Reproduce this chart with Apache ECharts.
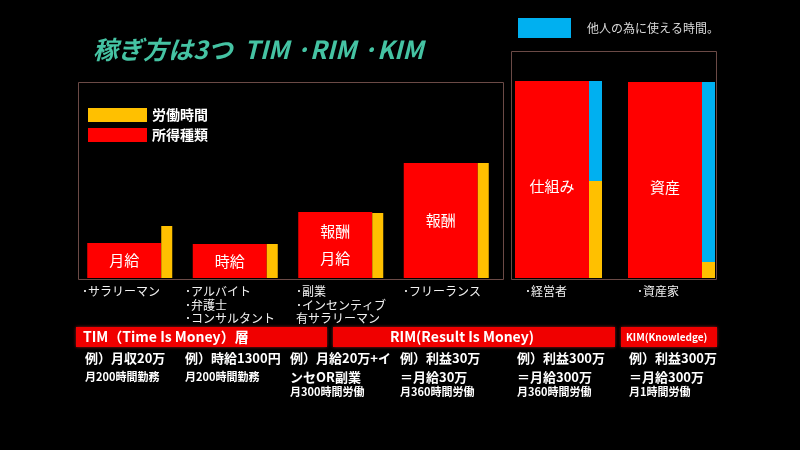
<!DOCTYPE html>
<html><head><meta charset="utf-8">
<script src="https://cdn.jsdelivr.net/npm/echarts@6/dist/echarts.min.js"></script>
<style>html,body{margin:0;padding:0;background:#000;}#c{width:800px;height:450px;}</style>
</head><body><div id="c"></div>
<script>
// ---- data ----
const leftCategories = ['･サラリーマン', '･アルバイト\n･弁護士\n･コンサルタント', '･副業\n･インセンティブ\n有サラリーマン', '･フリーランス'];
const rightCategories = ['･経営者', '･資産家'];
const leftIncome = [35, 34, 66, 115];        // 所得種類 (red)
const leftLabor = [52, 34, 65, 115];         // 労働時間 (orange)
const leftBarLabels = ['月給', '時給', '報酬\n月給', '報酬'];
const rightIncome = [197, 196];
const rightLabor = [97, 16];
const rightFree = [100, 180];                // 他人の為に使える時間
const rightBarLabels = ['仕組み', '資産'];
const bandLabels = ['TIM（Time Is Money）層', 'RIM(Result Is Money)', 'KIM(Knowledge)'];
const examples = [
  ['例）月収20万', '月200時間勤務'],
  ['例）時給1300円', '月200時間勤務'],
  ['例）月給20万+イ', 'ンセOR副業', '月300時間労働'],
  ['例）利益30万', '＝月給30万', '月360時間労働'],
  ['例）利益300万', '＝月給300万', '月360時間労働'],
  ['例）利益300万', '＝月給300万', '月1時間労働']
];
const titleText = '稼ぎ方は3つ  TIM ·RIM ·KIM';

const RED = '#ff0000', ORANGE = '#ffc000', BLUE = '#00b0f0';
const FONT = '"Noto Sans CJK JP", "Noto Sans", sans-serif';

// ---- decorative / text graphics ----
const graphics = [];
// frames
graphics.push({type:'rect', shape:{x:78.5, y:82.5, width:425, height:197}, style:{fill:'none', stroke:'#6b4a46', lineWidth:1}, z:-1});
graphics.push({type:'rect', shape:{x:511.5, y:51.5, width:205, height:228}, style:{fill:'none', stroke:'#6b4a46', lineWidth:1}, z:-1});
// category labels
const catX = [82, 185, 296, 403, 525, 637];
leftCategories.concat(rightCategories).forEach((t, i) => {
  graphics.push({type:'text', style:{text:t, x:catX[i], y:285, fill:'#f2f2f2', font:'12px ' + FONT, lineHeight:13.5, verticalAlign:'top'}});
});
// bands
const bands = [[76, 251], [333, 282], [621, 96]];
bands.forEach((b, i) => {
  graphics.push({type:'rect', shape:{x:b[0], y:327, width:b[1], height:20}, style:{fill:'#f00000', shadowBlur:3, shadowColor:'rgba(255,40,40,0.6)'}});
});
graphics.push({type:'text', style:{text:bandLabels[0], x:83, y:337, fill:'#fff', font:'bold 14px ' + FONT, verticalAlign:'middle'}});
graphics.push({type:'text', style:{text:bandLabels[1], x:462, y:337, fill:'#fff', font:'bold 14px ' + FONT, verticalAlign:'middle', align:'center'}});
graphics.push({type:'text', style:{text:bandLabels[2], x:626, y:337, fill:'#fff', font:'bold 10px ' + FONT, verticalAlign:'middle'}});
// examples
const exX = [85, 185, 290, 400, 517, 629];
examples.forEach((lines, i) => {
  lines.forEach((t, j) => {
    const small = (lines.length === 2 && j === 1) || j === 2;
    const y = j === 0 ? 358 : (j === 1 ? 377 : 392);
    graphics.push({type:'text', style:{text:t, x:exX[i], y:y, fill:'#fff', font:(small ? 'bold 11px ' : 'bold 13px ') + FONT, verticalAlign:'middle'}});
  });
});

const chart = echarts.init(document.getElementById('c'));
const lbl = {show:true, position:'inside', color:'#fff', fontSize:15, fontFamily:FONT, lineHeight:27};
chart.setOption({
  backgroundColor:'#000',
  animation:false,
  title:{text:titleText, left:93, top:37, padding:0, textStyle:{color:'#45c3a3', fontSize:25, fontStyle:'italic', fontWeight:'bold', fontFamily:FONT}},
  legend:[
    {data:['労働時間', '所得種類'], orient:'vertical', left:88, top:108, padding:0, itemWidth:59, itemHeight:14, itemGap:6,
     icon:'rect', textStyle:{color:'#fff', fontSize:14, fontWeight:'bold', fontFamily:FONT}},
    {data:['他人の為に使える時間。'], left:518, top:18, padding:0, itemWidth:53, itemHeight:20, icon:'rect',
     textStyle:{color:'#d8d8d8', fontSize:12, fontFamily:FONT, padding:[0,0,0,11]}}
  ],
  grid:[
    {left:77, right:301, top:78, bottom:172},
    {left:502, right:72, top:78, bottom:172}
  ],
  xAxis:[
    {type:'category', gridIndex:0, data:leftCategories, axisLine:{show:false}, axisTick:{show:false}, axisLabel:{show:false}},
    {type:'category', gridIndex:1, data:rightCategories, axisLine:{show:false}, axisTick:{show:false}, axisLabel:{show:false}}
  ],
  yAxis:[
    {type:'value', gridIndex:0, min:0, max:200, show:false, splitLine:{show:false}},
    {type:'value', gridIndex:1, min:0, max:200, show:false, splitLine:{show:false}}
  ],
  series:[
    {name:'所得種類', type:'bar', xAxisIndex:0, yAxisIndex:0, data:leftIncome, barWidth:74, barGap:'0%', itemStyle:{color:RED},
     label:Object.assign({}, lbl, {formatter:p => leftBarLabels[p.dataIndex]})},
    {name:'労働時間', type:'bar', xAxisIndex:0, yAxisIndex:0, data:leftLabor, barWidth:11, barGap:'0%', itemStyle:{color:ORANGE}},
    {name:'所得種類', type:'bar', xAxisIndex:1, yAxisIndex:1, data:rightIncome, barWidth:74, barGap:'0%', itemStyle:{color:RED},
     label:Object.assign({}, lbl, {offset:[0,7], formatter:p => rightBarLabels[p.dataIndex]})},
    {name:'労働時間', type:'bar', xAxisIndex:1, yAxisIndex:1, stack:'r', data:rightLabor, barWidth:13, barGap:'0%', itemStyle:{color:ORANGE}},
    {name:'他人の為に使える時間。', type:'bar', xAxisIndex:1, yAxisIndex:1, stack:'r', data:rightFree, barWidth:13, barGap:'0%', itemStyle:{color:BLUE}}
  ],
  graphic:graphics
});
</script></body></html>
